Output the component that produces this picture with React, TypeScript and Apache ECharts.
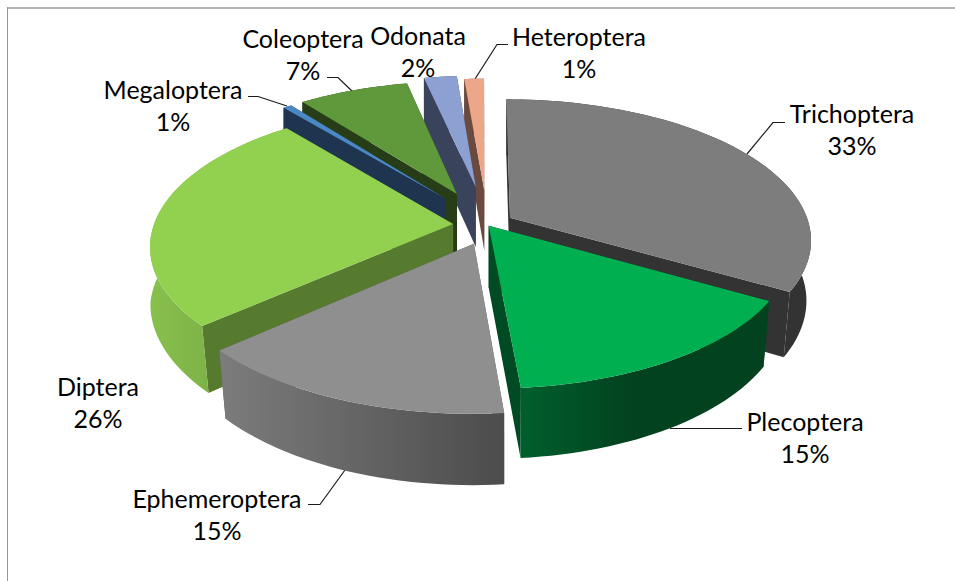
import React, { useEffect, useRef } from "react";
import * as echarts from "echarts";

// ---- data ----
const categories = ["Trichoptera", "Plecoptera", "Ephemeroptera", "Diptera", "Megaloptera", "Coleoptera", "Odonata", "Heteroptera"];
const shares = [33.4, 15.2, 14.8, 25.7, 0.55, 7.0, 2.1, 1.25];

// ---- styling per slice ----
const topColors = ["#7d7d7d", "#00b050", "#8f8f8f", "#92d050", "#4a88c5", "#5f993c", "#8da0d2", "#eca78a"];
const wallColors = ["#333333", "#004a24", "#5a5a5a", "#567a2e", "#1f354f", "#273d18", "#39435b", "#6a4a3e"];
const rimFrom = ["#333333", "#005f2d", "#7c7c7c", "#88c04d", "#1f354f", "#273d18", "#39435b", "#6a4a3e"];
const rimTo = ["#333333", "#02421f", "#4c4c4c", "#6f9f40", "#1f354f", "#273d18", "#39435b", "#6a4a3e"];
const rimMidStop = [1, 0.45, 1, 1, 1, 1, 1, 1];
// explode offset of each slice on the pie's plane (fractions of the radius)
const explodeX = [0.096, 0.024, -0.025, -0.095, -0.125, -0.085, -0.02, 0.01];
const explodeY = [-0.045, 0.012, 0.14, 0.0, -0.19, -0.224, -0.28, -0.25];
const drawOrder = [7, 6, 5, 4, 3, 0, 2, 1];

// ---- label layout ----
const labelX = [852, 805, 217, 98, 173, 303, 418, 579];
const labelY = [129, 437, 514, 402, 105, 54, 51, 52];
const leaders: number[][][] = [
  [[785, 122.5], [773, 122.5], [747, 154]],
  [[742, 428.5], [670, 428.5]],
  [[308, 504.5], [320, 504.5], [345, 470]],
  [],
  [[248, 96.5], [258, 96.5], [287, 106]],
  [[327, 77.5], [338, 77.5], [352, 91]],
  [],
  [[508, 44.5], [497, 44.5], [475, 79]],
];

// ---- projection of the tilted pie ----
const CX = 481.5, CY = 224, RX = 299, RY = 138, P = 0.15;
const VX = 505;

function project(X: number, Y: number): number[] {
  const s = 1 / (1 - P * Y);
  return [CX + RX * X * s, CY + RY * Y * s];
}
function drop(p: number[]): number[] {
  const d = 62 + (p[1] - 226) * 0.05;
  const ramp = p[0] < VX ? (p[1] - 240) / 90 : (p[1] - 110) / 190;
  const k = Math.max(0, Math.min(1, ramp)) * 0.022;
  return [p[0] + (VX - p[0]) * k, p[1] + d];
}

function buildSlice(i: number, api: any) {
  const start = (api.value(0) / 100) * Math.PI * 2;
  const end = (api.value(1) / 100) * Math.PI * 2;
  const ex = explodeX[i], ey = explodeY[i];
  const apex = project(ex, ey);
  const steps = Math.max(6, Math.ceil((end - start) / 0.03));
  const arc: number[][] = [];
  for (let k = 0; k <= steps; k++) {
    const a = start + ((end - start) * k) / steps;
    arc.push(project(ex + Math.sin(a), ey - Math.cos(a)));
  }
  const arcDown = arc.map(drop);
  const apexDown = drop(apex);
  const rimFill = new echarts.graphic.LinearGradient(0, 0, 1, 0, [
    { offset: 0, color: rimFrom[i] },
    { offset: rimMidStop[i], color: rimTo[i] },
    { offset: 1, color: rimTo[i] },
  ]);
  const wall = wallColors[i];
  const poly = (points: number[][], fill: any) => ({
    type: "polygon",
    shape: { points },
    style: { fill, stroke: "none" },
    silent: true,
  });
  return {
    type: "group",
    children: [
      poly([apex, arc[0], arcDown[0], apexDown], wall),
      poly([apex, arc[steps], arcDown[steps], apexDown], wall),
      poly([...arc, ...arcDown.slice().reverse()], rimFill),
      poly([apex, ...arc], topColors[i]),
    ],
  };
}

// cumulative start/end of each slice, in percent of the circle
const cumulative: number[][] = [];
{
  let acc = 0;
  for (const v of shares) {
    cumulative.push([acc, acc + v, v]);
    acc += v;
  }
}
const sliceRows = drawOrder.map((i) => ({ name: categories[i], value: [...cumulative[i], i] }));

export default function App() {
  const ref = useRef<HTMLDivElement>(null);
  useEffect(() => {
    const chart = echarts.init(ref.current!, undefined, { renderer: "svg" });
    const labelGraphics: any[] = categories.map((name, i) => ({
      type: "text",
      x: labelX[i],
      y: labelY[i],
      silent: true,
      style: {
        text: `${name}\n${Math.round(shares[i])}%`,
        fill: "#000000",
        font: '400 25px Lato, "Open Sans", sans-serif',
        lineHeight: 32,
        align: "center",
        verticalAlign: "middle",
      },
    }));
    const leaderGraphics: any[] = leaders
      .filter((l) => l.length > 0)
      .map((points) => ({
        type: "polyline",
        silent: true,
        shape: { points },
        style: { stroke: "#1a1a1a", lineWidth: 1.2, fill: "none" },
      }));
    chart.setOption({
      animation: false,
      backgroundColor: "#ffffff",
      graphic: [
        {
          type: "line",
          silent: true,
          shape: { x1: 7, y1: 8, x2: 955, y2: 8 },
          style: { stroke: "#b4b4b4", lineWidth: 2 },
        },
        {
          type: "line",
          silent: true,
          shape: { x1: 7.5, y1: 7, x2: 7.5, y2: 581 },
          style: { stroke: "#999999", lineWidth: 1 },
        },
        ...leaderGraphics,
        ...labelGraphics,
      ],
      series: [
        {
          type: "custom",
          coordinateSystem: "none",
          silent: true,
          z: 2,
          data: sliceRows,
          renderItem: (_params: any, api: any) => buildSlice(api.value(3), api),
        },
      ],
    });
    return () => chart.dispose();
  }, []);
  return <div ref={ref} style={{ position: "fixed", left: 0, top: 0, width: 955, height: 581 }} />;
}
